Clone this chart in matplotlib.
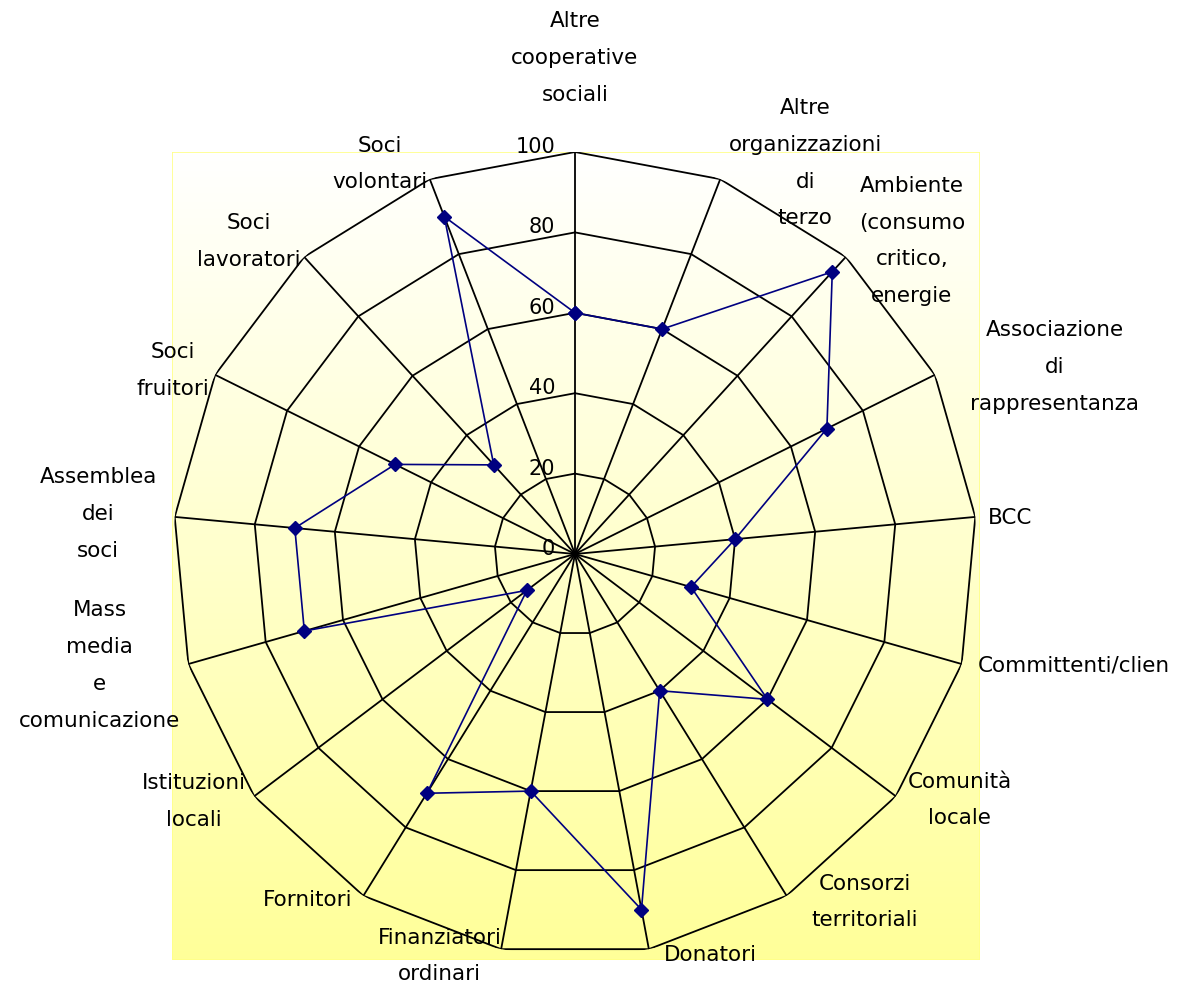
import numpy as np
import matplotlib.pyplot as plt
from matplotlib import transforms
from matplotlib.patches import Rectangle

categories = ['Altre\ncooperative\nsociali', 'Altre\norganizzazioni\ndi\nterzo',
              'Ambiente\n(consumo\ncritico,\nenergie', 'Associazione\ndi\nrappresentanza',
              'BCC', 'Committenti/clien', 'Comunità\nlocale', 'Consorzi\nterritoriali',
              'Donatori', 'Finanziatori\nordinari', 'Fornitori', 'Istituzioni\nlocali',
              'Mass\nmedia\ne\ncomunicazione', 'Assemblea\ndei\nsoci', 'Soci\nfruitori',
              'Soci\nlavoratori', 'Soci\nvolontari']
values = [60, 60, 95, 70, 40, 30, 60, 40, 90, 60, 70, 15, 70, 70, 50, 30, 90]
ticks = [0, 20, 40, 60, 80, 100]

# label placement (angle in degrees clockwise from top, radius, alignment)
label_pos = [(0, 123.4, 'center'), (30.5, 112.8, 'center'), (47.1, 114.4, 'center'),
             (68.7, 128, 'center'), (85.3, 108.6, 'center'), (105.4, 104, 'left'),
             (122.6, 113.6, 'center'), (140.2, 112.7, 'center'), (161.4, 105.2, 'center'),
             (198.6, 105.5, 'center'), (217.7, 108.7, 'center'), (237, 113, 'center'),
             (256.8, 121.4, 'center'), (274.8, 119, 'center'), (294.5, 110, 'center'),
             (313.7, 112.4, 'center'), (333.4, 108.5, 'center')]

W, H = 1195, 985
fig = plt.figure(figsize=(W / 100, H / 100), dpi=100)

# plot area background: white -> pale yellow
bg = fig.add_axes([172 / W, 25 / H, 808 / W, 808 / H])
g = np.linspace(0, 1, 256)
img = np.ones((256, 1, 3))
img[:, 0, 2] = 1 - g * (1 - 153 / 255)
bg.imshow(img, aspect='auto', extent=[0, 1, 0, 1])
bg.add_patch(Rectangle((0, 0), 1, 1, transform=bg.transAxes, fill=False,
                       edgecolor='#ffff88', lw=1.2))
bg.axis('off')

cx, cy, R = 575, 554, 402
ax = fig.add_axes([(cx - R) / W, (H - cy - R) / H, 2 * R / W, 2 * R / H], projection='polar')
ax.set_theta_offset(np.pi / 2)
ax.set_theta_direction(-1)
ax.set_ylim(0, 100)
ax.grid(False)
ax.spines['polar'].set_visible(False)
ax.set_xticks([])
ax.set_yticks([])
ax.patch.set_alpha(0)

n = len(categories)
theta = np.arange(n) * 2 * np.pi / n
closed = np.append(theta, theta[0])

for t in ticks[1:]:
    ax.plot(closed, [t] * (n + 1), color='black', lw=1.3)
for th in theta:
    ax.plot([th, th], [0, 100], color='black', lw=1.3)

ax.plot(closed, values + values[:1], color='#000080', lw=1.2, marker='D', ms=7)

off = transforms.offset_copy(ax.transData, fig=fig, x=-20, y=5, units='dots')
for t in ticks:
    ax.text(0, t, str(t), transform=off, ha='right', va='center', fontsize=15)

for name, (a, r, ha) in zip(categories, label_pos):
    ax.text(np.deg2rad(a), r, name, ha=ha, va='center', multialignment='center',
            fontsize=15.5, linespacing=2.05)

fig.savefig('out.png', dpi=100)
